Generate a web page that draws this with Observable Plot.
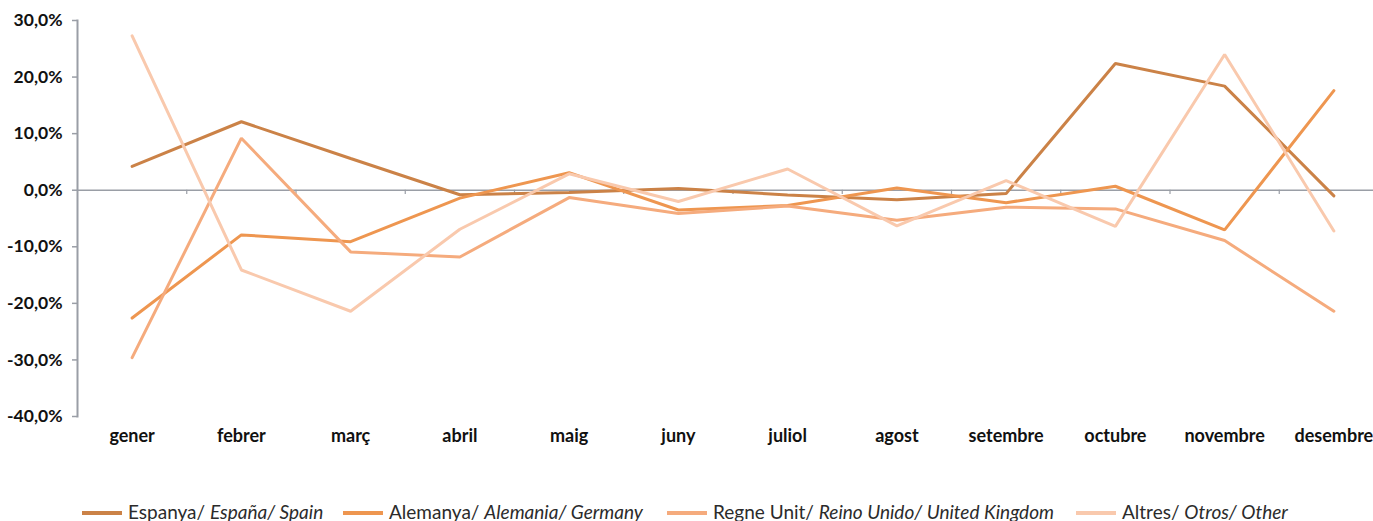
<!DOCTYPE html>
<html>
<head>
<meta charset="utf-8">
<script src="https://cdn.jsdelivr.net/npm/d3@7"></script>
<script src="https://cdn.jsdelivr.net/npm/@observablehq/plot@0.6"></script>
<style>
  html, body { margin: 0; padding: 0; background: #fff; }
  #wrap { position: relative; width: 1373px; height: 521px; overflow: hidden; }
  #legend { position: absolute; left: 0; top: 498px; width: 1373px; height: 30px; font-family: Lato, "Open Sans", sans-serif; font-size: 19px; color: #2b2b2b; }
  .item { position: absolute; top: 0; white-space: pre; line-height: 28px; height: 28px; }
  .sw { display: inline-block; width: 40px; height: 4px; margin-right: 6px; vertical-align: middle; position: relative; top: -1px; }
  .item i { font-style: italic; }
</style>
</head>
<body>
<div id="wrap">
  <div id="chart"></div>
  <div id="legend"></div>
</div>
<script>
const months = ["gener","febrer","març","abril","maig","juny","juliol","agost","setembre","octubre","novembre","desembre"];

const espanya   = [4.2, 12.1, 5.6, -0.8, -0.4, 0.3, -0.85, -1.7, -0.6, 22.4, 18.4, -1.0];
const alemanya  = [-22.6, -7.9, -9.1, -1.4, 3.1, -3.5, -2.7, 0.4, -2.2, 0.7, -7.0, 17.6];
const regneUnit = [-29.6, 9.2, -10.9, -11.8, -1.3, -4.1, -2.8, -5.3, -3.0, -3.3, -8.9, -21.4];
const altres    = [27.3, -14.1, -21.4, -6.9, 2.9, -2.0, 3.75, -6.3, 1.7, -6.4, 24.0, -7.2];

const seriesKeys = ["Espanya", "Alemanya", "Regne Unit", "Altres"];
const seriesValues = [espanya, alemanya, regneUnit, altres];
const legendLabels = [
  ["Espanya/ ", "España/ Spain"],
  ["Alemanya/ ", "Alemania/ Germany"],
  ["Regne Unit/ ", "Reino Unido/ United Kingdom"],
  ["Altres/ ", "Otros/ Other"]
];
const yTicks = [-40, -30, -20, -10, 0, 10, 20, 30];

const colors = ["#CB8247", "#EE9650", "#F5AB7D", "#F9C9AD"];
const legendLeft = [82, 343, 667, 1076];

const data = seriesKeys.flatMap((k, s) => seriesValues[s].map((v, i) => ({serie: k, i, v})));
const boundaries = d3.range(11).map(i => i + 0.5);
const axisGray = "#9a9ea6";

const chart = Plot.plot({
  width: 1373,
  height: 492,
  marginLeft: 77,
  marginRight: -15,
  marginTop: 20,
  marginBottom: 76,
  style: {fontFamily: "Lato, 'Open Sans', sans-serif", color: "#111", background: "#fff"},
  x: {type: "linear", domain: [-0.5, 11.5], axis: null},
  y: {domain: [-40, 30], axis: null},
  color: {domain: seriesKeys, range: colors},
  marks: [
    Plot.ruleY([0], {stroke: axisGray, strokeWidth: 1.6}),
    Plot.ruleX(boundaries, {x: d => d, y1: 0, y2: -0.75, stroke: axisGray, strokeWidth: 1.2}),
    Plot.frame({anchor: "left", stroke: axisGray, strokeWidth: 2}),
    Plot.axisY({
      ticks: yTicks,
      label: null,
      tickFormat: d => d.toFixed(1).replace(".", ",") + "%",
      tickSize: 5, tickPadding: 10,
      stroke: axisGray, strokeWidth: 1.5,
      fontSize: 17.5, fontWeight: 700, fill: "#111"
    }),
    Plot.axisX({
      ticks: d3.range(12),
      label: null,
      tickFormat: i => months[i],
      tickSize: 0, tickPadding: 13,
      fontSize: 18, fontWeight: 700, fill: "#111"
    }),
    Plot.lineY(data, {x: "i", y: "v", z: "serie", stroke: "serie", strokeWidth: 3, strokeLinejoin: "miter"})
  ]
});
document.getElementById("chart").appendChild(chart);

const legend = document.getElementById("legend");
seriesKeys.forEach((k, s) => {
  const it = document.createElement("div");
  it.className = "item";
  it.style.left = legendLeft[s] + "px";
  const sw = document.createElement("span");
  sw.className = "sw";
  sw.style.background = colors[s];
  it.appendChild(sw);
  const reg = document.createElement("span");
  reg.textContent = legendLabels[s][0];
  it.appendChild(reg);
  const em = document.createElement("i");
  em.textContent = legendLabels[s][1];
  it.appendChild(em);
  legend.appendChild(it);
});
</script>
</body>
</html>
